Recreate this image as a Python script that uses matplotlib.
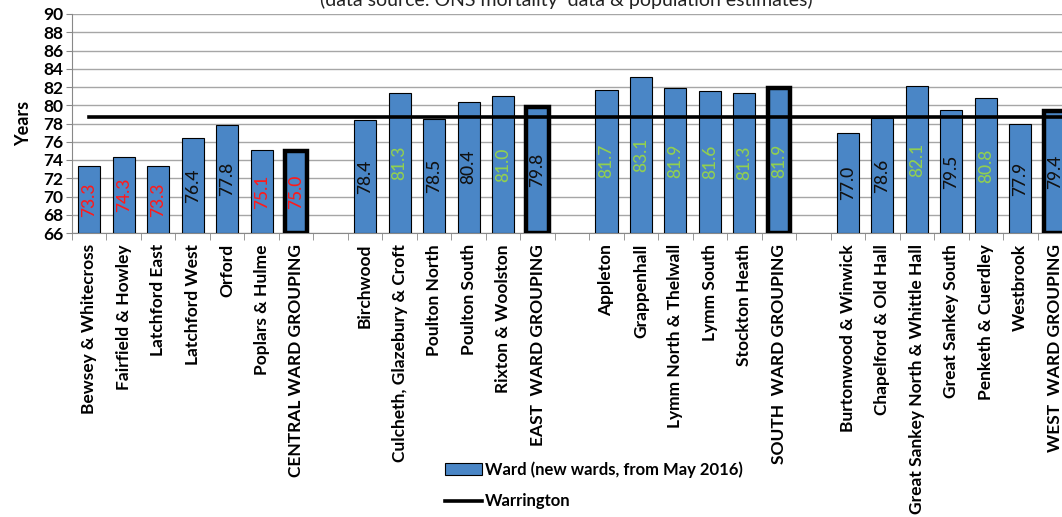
import matplotlib
matplotlib.use("Agg")
import matplotlib.pyplot as plt
from matplotlib.patches import Patch
from matplotlib.lines import Line2D

plt.rcParams['font.family'] = ['Lato', 'DejaVu Sans']

central_wards = ["Bewsey & Whitecross", "Fairfield & Howley", "Latchford East",
                 "Latchford West", "Orford", "Poplars & Hulme", "CENTRAL WARD GROUPING"]
central_values = [73.3, 74.3, 73.3, 76.4, 77.8, 75.1, 75.0]
east_wards = ["Birchwood", "Culcheth, Glazebury & Croft", "Poulton North",
              "Poulton South", "Rixton & Woolston", "EAST  WARD GROUPING"]
east_values = [78.4, 81.3, 78.5, 80.4, 81.0, 79.8]
south_wards = ["Appleton", "Grappenhall", "Lymm North & Thelwall", "Lymm South",
               "Stockton Heath", "SOUTH  WARD GROUPING"]
south_values = [81.7, 83.1, 81.9, 81.6, 81.3, 81.9]
west_wards = ["Burtonwood & Winwick", "Chapelford & Old Hall",
              "Great Sankey North & Whittle Hall", "Great Sankey South",
              "Penketh & Cuerdley", "Westbrook", "WEST  WARD GROUPING"]
west_values = [77.0, 78.6, 82.1, 79.5, 80.8, 77.9, 79.4]
warrington = 78.7

groups = [(central_wards, central_values), (east_wards, east_values),
          (south_wards, south_values), (west_wards, west_values)]

fig = plt.figure(figsize=(10.62, 5.17), dpi=100)
ax = fig.add_axes([72/1062, 284/517, 1000/1062, 219/517])

BLUE = "#4a86c6"
labels_all = []
pos = 0
first_pos = None
last_pos = None
for gi, (names, vals) in enumerate(groups):
    for i, (n, v) in enumerate(zip(names, vals)):
        is_group = (i == len(names) - 1)
        ax.bar(pos, v - 66, bottom=66, width=0.64, color=BLUE,
               edgecolor="black", linewidth=3.2 if is_group else 0.8, zorder=3)
        if v < 76:
            c = "#ff1a1a"
        elif v >= 80.5:
            c = "#92d050"
        else:
            c = "#111111"
        ax.text(pos, (66 + v) / 2, f"{v:.1f}", rotation=90, ha="center",
                va="center", color=c, fontsize=12.5, fontweight="medium", zorder=5)
        labels_all.append((pos, n))
        if first_pos is None:
            first_pos = pos
        last_pos = pos
        pos += 1
    pos += 1  # gap slot
nslots = last_pos + 1

ax.plot([first_pos, last_pos + 1.5], [warrington, warrington], color="black",
        linewidth=2.6, zorder=4)

ax.set_xlim(-0.5, nslots - 0.5)
ax.set_ylim(66, 90)
ax.set_yticks(range(66, 91, 2))
ax.yaxis.grid(True, color="#a6a6a6", linewidth=1.0, zorder=0)
ax.set_axisbelow(True)

ax.set_xticks([p for p, _ in labels_all])
ax.set_xticklabels([n for _, n in labels_all], rotation=90, fontsize=12.5,
                   fontweight="bold", va="top")
ax.set_xticks([x - 0.5 for x in range(nslots + 1)], minor=True)
ax.tick_params(axis="x", which="major", length=0, pad=8)
ax.tick_params(axis="x", which="minor", length=5, color="#888888", direction="out")
ax.tick_params(axis="y", length=4, color="#888888", labelsize=12.5, pad=2)
for lab in ax.get_yticklabels():
    lab.set_fontweight("bold")

for s in ["top", "right"]:
    ax.spines[s].set_visible(False)
ax.spines["left"].set_color("#888888")
ax.spines["bottom"].set_color("#888888")

ax.set_ylabel("Years", fontsize=13, fontweight="bold", labelpad=8)

fig.text(566/1062, 1.0, "(data source: ONS mortality  data & population estimates)",
         ha="center", va="center", fontsize=14, color="#222222")

handles = [Patch(facecolor=BLUE, edgecolor="black", linewidth=0.8),
           Line2D([0], [0], color="black", linewidth=2.6)]
fig.legend(handles, ["Ward (new wards, from May 2016)", "Warrington"],
           loc="upper left", bbox_to_anchor=(430/1062, 1 - 446/517),
           frameon=False, prop={"weight": "bold", "size": 12},
           handlelength=2.2, handletextpad=0.2, labelspacing=0.95)

fig.savefig("out.png", dpi=100)
